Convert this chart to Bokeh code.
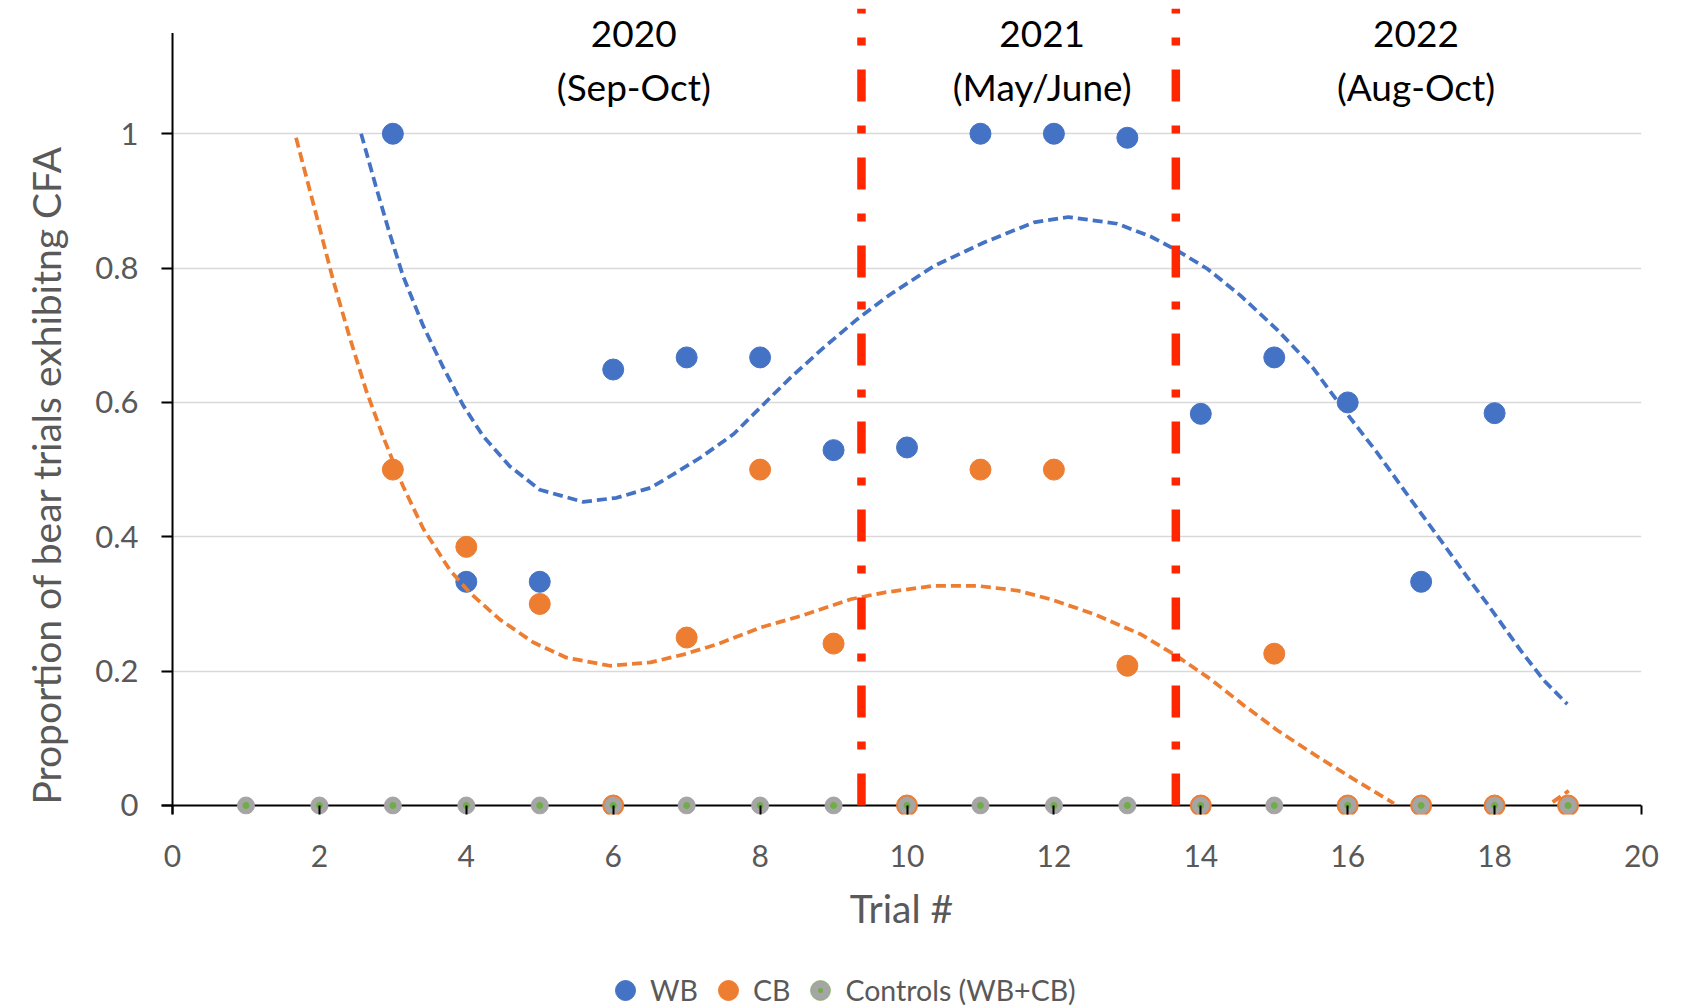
import math
from bokeh.plotting import figure
from bokeh.layouts import column
from bokeh.models import (Range1d, FixedTicker, Legend, LegendItem, Span, Title,
                          NumeralTickFormatter)
from bokeh.core.properties import value
from bokeh.embed import file_html
from bokeh.resources import INLINE

# ---------------- data ----------------
wb_x = [3, 4, 5, 6, 7, 8, 9, 10, 11, 12, 13, 14, 15, 16, 17, 18]
wb_y = [1.0, 0.333, 0.333, 0.649, 0.667, 0.667, 0.529, 0.533, 1.0, 1.0, 0.994,
        0.583, 0.667, 0.600, 0.333, 0.584]

cb_x = [3, 4, 5, 6, 7, 8, 9, 10, 11, 12, 13, 14, 15, 16, 17, 18, 19]
cb_y = [0.500, 0.385, 0.300, 0.0, 0.250, 0.500, 0.241, 0.0, 0.500, 0.500, 0.208,
        0.0, 0.226, 0.0, 0.0, 0.0, 0.0]

ctrl_x = [1, 2, 3, 4, 5, 6, 7, 8, 9, 10, 11, 12, 13, 14, 15, 16, 17, 18, 19]
ctrl_y = [0.0] * 19

# trendlines
wb_trend_x = [2.568, 2.773, 2.955, 3.136, 3.409, 3.682, 3.955, 4.227, 4.591, 5.000,
              5.591, 6.045, 6.509, 6.727, 7.190, 7.640, 8.007, 8.415, 8.869, 9.323,
              9.776, 10.366, 11.047, 11.728, 12.200, 12.863, 13.317, 13.680, 14.088,
              14.542, 15.041, 15.495, 15.949, 16.402, 16.856, 17.265, 17.628, 17.901,
              18.354, 18.672, 18.990]
wb_trend_y = [1.000, 0.920, 0.852, 0.789, 0.715, 0.653, 0.596, 0.550, 0.505, 0.470,
              0.452, 0.458, 0.473, 0.487, 0.518, 0.553, 0.593, 0.637, 0.682, 0.724,
              0.761, 0.803, 0.838, 0.868, 0.876, 0.866, 0.847, 0.826, 0.799,
              0.759, 0.708, 0.656, 0.589, 0.525, 0.456, 0.395, 0.340, 0.300,
              0.231, 0.186, 0.151]

nan = float("nan")
cb_trend_x = [1.682, 1.955, 2.182, 2.409, 2.636, 2.864, 3.136, 3.409, 3.773, 4.045,
              4.455, 4.909, 5.364, 5.955, 6.509, 6.963, 7.417, 8.007, 8.551, 9.232,
              9.686, 10.366, 10.957, 11.501, 11.955, 12.545, 13.180, 13.680, 14.133,
              14.587, 15.041, 15.586, 16.130, 16.630, nan, 18.79, 19.01]
cb_trend_y = [0.994, 0.880, 0.784, 0.698, 0.618, 0.550, 0.476, 0.413, 0.351, 0.317,
              0.277, 0.243, 0.220, 0.208, 0.213, 0.225, 0.240, 0.265, 0.282, 0.307,
              0.317, 0.327, 0.327, 0.320, 0.307, 0.285, 0.255, 0.222, 0.188,
              0.149, 0.112, 0.073, 0.036, 0.003, nan, 0.005, 0.022]

# season separators and labels
period_breaks = [9.38, 13.66]
period_centers = [6.28, 11.84, 16.93]
period_years = ["2020", "2021", "2022"]
period_months = ["(Sep-Oct)", "(May/June)", "(Aug-Oct)"]

x_ticks = [0, 2, 4, 6, 8, 10, 12, 14, 16, 18, 20]
y_ticks = [0, 0.2, 0.4, 0.6, 0.8, 1.0]

x_title = "Trial #"
y_title = "Proportion of bear trials  exhibitng CFA"
series_names = ["WB", "CB", "Controls (WB+CB)"]

# ---------------- style ----------------
BLUE = "#4472c4"
ORANGE = "#ed7d31"
GRAY = "#a5a5a5"
GREEN = "#70ad47"
RED = "#ff2600"
TXT = "#595959"
FONT = "Lato"

W = 1677
H_MAIN = 946
H_LEG = 61
FRAME_H = 806
TOP = 8

X_LEFT = -0.15
Y_TOP = 1.1864
Y_BOT = -0.0134
Y_AXIS_TOP = 1.15
YEAR_Y = 1.1487
MONTH_Y = 1.0696

p = figure(width=W, height=H_MAIN,
           x_range=Range1d(X_LEFT, 20), y_range=Range1d(Y_BOT, Y_TOP),
           output_backend="svg", toolbar_location=None,
           min_border_left=161, min_border_right=36,
           min_border_top=TOP, min_border_bottom=H_MAIN - TOP - FRAME_H)
p.outline_line_color = None
p.background_fill_color = "white"
p.border_fill_color = "white"

# x axis (ticks reach from frame bottom up to y = 0)
p.xaxis.ticker = FixedTicker(ticks=x_ticks)
p.xaxis.axis_line_color = None
p.xaxis.major_tick_out = 0
p.xaxis.major_tick_in = 9
p.xaxis.major_tick_line_width = 2
p.xaxis.major_tick_line_color = "black"
p.xaxis.minor_tick_line_color = None
p.xaxis.major_label_standoff = 30
p.xaxis.major_label_text_font = FONT
p.xaxis.major_label_text_font_size = "30px"
p.xaxis.major_label_text_color = TXT
p.xaxis.axis_label = x_title
p.xaxis.axis_label_standoff = 15
p.xaxis.axis_label_text_font = FONT
p.xaxis.axis_label_text_font_size = "39px"
p.xaxis.axis_label_text_font_style = "normal"
p.xaxis.axis_label_text_color = TXT

# y axis (ticks reach from frame left to x = 0)
p.yaxis.ticker = FixedTicker(ticks=y_ticks)
p.yaxis.formatter = NumeralTickFormatter(format="0.[0]")
p.yaxis.axis_line_color = None
p.yaxis.major_tick_out = 0
p.yaxis.major_tick_in = 11
p.yaxis.major_tick_line_width = 2
p.yaxis.major_tick_line_color = "black"
p.yaxis.minor_tick_line_color = None
p.yaxis.major_label_standoff = 23
p.yaxis.major_label_text_font = FONT
p.yaxis.major_label_text_font_size = "31px"
p.yaxis.major_label_text_color = TXT

p.add_layout(Title(text=y_title, align="left", vertical_align="top",
                   offset=10, standoff=43, text_font=FONT,
                   text_font_size="39px", text_font_style="normal",
                   text_color=TXT), "left")

p.xgrid.visible = False
p.ygrid.ticker = FixedTicker(ticks=y_ticks[1:])
p.ygrid.grid_line_color = "#d9d9d9"
p.ygrid.grid_line_width = 1.5

# axis lines crossing at the origin
p.add_layout(Span(location=0, dimension="width", line_color="black",
                  line_width=2, level="underlay"))
p.segment(x0=[0], y0=[Y_BOT], x1=[0], y1=[Y_AXIS_TOP],
          line_color="black", line_width=2)

# markers
p.scatter(wb_x, wb_y, size=21, color=BLUE)
p.scatter(cb_x, cb_y, size=21, color=ORANGE)
p.scatter(ctrl_x, ctrl_y, size=17, color=GRAY)
p.scatter(ctrl_x, ctrl_y, size=6, color=GREEN)

# trendlines
p.line(wb_trend_x, wb_trend_y, line_color=BLUE, line_width=3.75, line_dash="10 5")
p.line(cb_trend_x, cb_trend_y, line_color=ORANGE, line_width=3.75, line_dash="10 5")

# season separators
p.segment(x0=period_breaks, y0=[0] * len(period_breaks),
          x1=period_breaks, y1=[Y_TOP] * len(period_breaks),
          line_color=RED, line_width=8.5, line_dash="32 24 8 24")

# season labels
p.text(x=period_centers, y=[YEAR_Y] * 3, text=period_years,
       text_align="center", text_baseline="alphabetic",
       text_font=value(FONT), text_font_size="37px", text_color="black")
p.text(x=period_centers, y=[MONTH_Y] * 3, text=period_months,
       text_align="center", text_baseline="alphabetic",
       text_font=value(FONT), text_font_size="37px", text_color="black")

# ---------------- legend strip below the chart ----------------
lg = figure(width=W, height=H_LEG, x_range=Range1d(0, 20), y_range=Range1d(5, 6),
            output_backend="svg", toolbar_location=None,
            x_axis_location=None, y_axis_location=None, min_border=0)
lg.outline_line_color = None
lg.xgrid.visible = False
lg.ygrid.visible = False
lg.background_fill_color = "white"
lg.border_fill_color = "white"
# same series, outside the strip's visible range: only their legend glyphs show
l_wb = lg.scatter(wb_x, wb_y, size=21, color=BLUE)
l_cb = lg.scatter(cb_x, cb_y, size=21, color=ORANGE)
l_ctrl = lg.scatter(ctrl_x, ctrl_y, marker="circle_dot", size=17,
                    fill_color=GRAY, line_color=GREEN, line_width=0.6)

legend = Legend(items=[LegendItem(label=series_names[0], renderers=[l_wb]),
                       LegendItem(label=series_names[1], renderers=[l_cb]),
                       LegendItem(label=series_names[2], renderers=[l_ctrl])],
                location=(439, -8), orientation="horizontal",
                glyph_width=50, glyph_height=50, label_standoff=0, spacing=5,
                padding=0, margin=0, border_line_color=None,
                background_fill_alpha=0,
                label_text_font=FONT, label_text_font_size="28.5px",
                label_text_color=TXT)
lg.add_layout(legend)

page = column(p, lg, spacing=0)
open("out.html", "w").write(file_html(page, INLINE))
